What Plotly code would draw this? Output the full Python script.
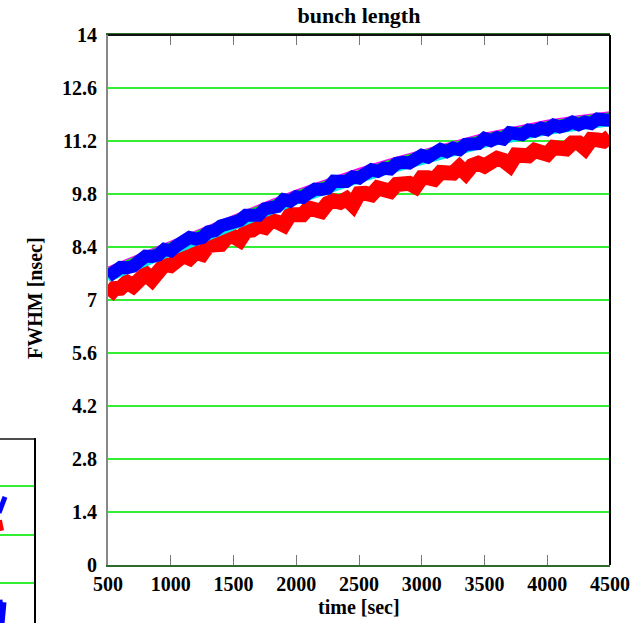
import plotly.graph_objects as go

# ---------------- data ----------------
time_sec = [500, 550, 600, 650, 700, 750, 800, 850, 900, 950,
            1000, 1050, 1100, 1150, 1200, 1250, 1300, 1350, 1400, 1450,
            1500, 1550, 1600, 1650, 1700, 1750, 1800, 1850, 1900, 1950,
            2000, 2050, 2100, 2150, 2200, 2250, 2300, 2350, 2400, 2450,
            2500, 2550, 2600, 2650, 2700, 2750, 2800, 2850, 2900, 2950,
            3000, 3050, 3100, 3150, 3200, 3250, 3300, 3350, 3400, 3450,
            3500, 3550, 3600, 3650, 3700, 3750, 3800, 3850, 3900, 3950,
            4000, 4050, 4100, 4150, 4200, 4250, 4300, 4350, 4400, 4450, 4500]

fwhm_blue = [7.62, 7.76, 7.86, 7.85, 7.89, 8.03, 8.16, 8.15, 8.19, 8.34,
             8.30, 8.44, 8.54, 8.65, 8.61, 8.65, 8.80, 8.83, 8.96, 8.99,
             9.00, 9.10, 9.24, 9.26, 9.24, 9.41, 9.45, 9.47, 9.65, 9.61,
             9.73, 9.71, 9.83, 9.93, 9.92, 9.95, 10.14, 10.10, 10.13, 10.25,
             10.22, 10.34, 10.44, 10.40, 10.48, 10.46, 10.61, 10.64, 10.62, 10.72,
             10.82, 10.77, 10.84, 10.98, 10.92, 11.01, 10.97, 11.11, 11.12, 11.13,
             11.27, 11.21, 11.29, 11.25, 11.42, 11.37, 11.37, 11.49, 11.46, 11.54,
             11.50, 11.62, 11.57, 11.62, 11.70, 11.63, 11.70, 11.66, 11.78, 11.76, 11.75]

fwhm_red = [7.10, 7.30, 7.31, 7.47, 7.37, 7.60, 7.69, 7.54, 7.80, 7.94,
            7.91, 8.04, 8.17, 8.10, 8.26, 8.21, 8.44, 8.46, 8.47, 8.66,
            8.68, 8.58, 8.83, 8.85, 8.96, 8.92, 9.10, 9.06, 8.98, 9.25,
            9.29, 9.25, 9.43, 9.43, 9.34, 9.55, 9.62, 9.58, 9.67, 9.51,
            9.81, 9.82, 9.78, 9.96, 9.96, 9.87, 10.05, 10.11, 10.08, 9.99,
            10.23, 10.23, 10.19, 10.37, 10.37, 10.35, 10.51, 10.35, 10.55, 10.61,
            10.54, 10.68, 10.74, 10.69, 10.56, 10.83, 10.84, 10.81, 10.95, 10.93,
            10.85, 11.03, 11.04, 10.99, 11.15, 11.15, 11.01, 11.24, 11.23, 11.20, 11.32]

time_coarse = [500, 750, 1000, 1250, 1500, 1750, 2000, 2250, 2500,
               2750, 3000, 3250, 3500, 3750, 4000, 4250, 4500]
fwhm_cyan = [7.57, 7.92, 8.27, 8.61, 8.95, 9.28, 9.61, 9.90, 10.18,
             10.43, 10.67, 10.89, 11.11, 11.28, 11.45, 11.57, 11.68]
fwhm_magenta = [7.80, 8.15, 8.50, 8.84, 9.18, 9.51, 9.84, 10.13, 10.41,
                10.66, 10.90, 11.12, 11.34, 11.51, 11.68, 11.80, 11.91]
fwhm_green = [7.78, 8.13, 8.48, 8.82, 9.16, 9.49, 9.82, 10.11, 10.39,
              10.64, 10.88, 11.10, 11.32, 11.49, 11.66, 11.78, 11.89]
fwhm_black = [7.64, 7.99, 8.34, 8.68, 9.02, 9.35, 9.68, 9.97, 10.25,
              10.50, 10.74, 10.96, 11.18, 11.35, 11.52, 11.64, 11.75]

y_ticks = [0, 1.4, 2.8, 4.2, 5.6, 7, 8.4, 9.8, 11.2, 12.6, 14]
y_tick_text = ["0", "1.4", "2.8", "4.2", "5.6", "7", "8.4", "9.8", "11.2", "12.6", "14"]
x_ticks = [500, 1000, 1500, 2000, 2500, 3000, 3500, 4000, 4500]

# fragment of the neighbouring panel (left bottom)
frag_blue_x = [-1, 5]
frag_blue_y = [1.45, 1.78]
frag_red_x = [0, 1, 2]
frag_red_y = [1.30, 1.20, 1.08]
frag_blue2_x = [0, 2, 4]
frag_blue2_y = [-0.35, -0.85, -0.40]

W, H = 643, 623
L, R, T, B = 108, 610, 35, 565
FONT = "Liberation Serif"
GRID = "#33ee33"

fig = go.Figure()

def add_line(x, y, color, width, axes=("x", "y")):
    fig.add_trace(go.Scatter(x=x, y=y, mode="lines",
                             line=dict(color=color, width=width),
                             xaxis=axes[0], yaxis=axes[1],
                             showlegend=False, hoverinfo="skip"))

add_line(time_sec, fwhm_red, "#ff0000", 15)
add_line(time_coarse, fwhm_cyan, "#00e5ee", 7)
add_line(time_coarse, fwhm_magenta, "#ff00ff", 6)
add_line(time_coarse, fwhm_green, "#00ee00", 5)
add_line(time_coarse, fwhm_black, "#000000", 4)
add_line(time_sec, fwhm_blue, "#0000ff", 13)

# fragment traces
add_line(frag_blue_x, frag_blue_y, "#0000ff", 5, ("x2", "y2"))
add_line(frag_red_x, frag_red_y, "#ff0000", 4, ("x2", "y2"))
add_line(frag_blue2_x, frag_blue2_y, "#0000ff", 5, ("x2", "y2"))

tickfont = dict(family=FONT, size=20, color="black", weight="bold")

fig.update_layout(
    template="none",
    width=W, height=H, autosize=False,
    margin=dict(l=0, r=0, t=0, b=0, pad=0),
    paper_bgcolor="white", plot_bgcolor="white",
    title=dict(text="bunch length", x=(L + R) / 2 / W, xanchor="center",
               y=1 - 15 / H, yanchor="middle", yref="container", xref="container",
               font=dict(family=FONT, size=22, color="black", weight="bold"),
               automargin=False),
    xaxis=dict(domain=[L / W, R / W], range=[500, 4500], automargin=False,
               tickmode="array", tickvals=x_ticks,
               ticks="inside", ticklen=10, tickwidth=1, tickcolor="#777777",
               showline=True, linecolor="#2d6b2d", linewidth=2, mirror="ticks",
               showgrid=False, zeroline=False, tickfont=tickfont,
               ticklabelstandoff=0),
    yaxis=dict(domain=[1 - B / H, 1 - T / H], range=[0, 14], automargin=False,
               tickmode="array", tickvals=y_ticks, ticktext=y_tick_text,
               ticks="", showline=True, linecolor="#888888", linewidth=2,
               showgrid=True, gridcolor=GRID, gridwidth=1.5,
               zeroline=False, tickfont=tickfont, ticklabelstandoff=5),
    xaxis2=dict(domain=[0, 35 / W], range=[0, 35], showgrid=False, automargin=False,
                showticklabels=False, ticks="", zeroline=False,
                showline=False, anchor="y2"),
    yaxis2=dict(domain=[0, 1 - 438 / H], range=[-0.83, 3], anchor="x2", automargin=False,
                tickvals=[0, 1, 2, 3], showticklabels=False, ticks="",
                showgrid=True, gridcolor=GRID, gridwidth=1.5, zeroline=False,
                showline=False),
    annotations=[
        dict(text="FWHM [nsec]", x=35 / W, y=1 - 298 / H, xref="paper", yref="paper",
             textangle=-90, showarrow=False, xanchor="center", yanchor="middle",
             font=dict(family=FONT, size=20, color="black", weight="bold")),
        dict(text="time [sec]", x=(L + R) / 2 / W, y=1 - 607 / H, xref="paper", yref="paper",
             showarrow=False, xanchor="center", yanchor="middle",
             font=dict(family=FONT, size=20, color="black", weight="bold")),
    ],
    shapes=[
        dict(type="line", xref="paper", yref="paper", x0=R / W, x1=R / W,
             y0=1 - B / H, y1=1 - T / H, line=dict(color="black", width=2)),
        dict(type="line", xref="paper", yref="paper", x0=L / W, x1=R / W,
             y0=1 - T / H, y1=1 - T / H, line=dict(color="#111111", width=2)),
        dict(type="line", xref="paper", yref="paper", x0=35 / W, x1=35 / W,
             y0=0, y1=1 - 438 / H, line=dict(color="black", width=2)),
        dict(type="line", xref="paper", yref="paper", x0=0, x1=35 / W,
             y0=1 - 439 / H, y1=1 - 439 / H, line=dict(color="#111111", width=1.5)),
    ],
)

fig.write_html("out.html")
